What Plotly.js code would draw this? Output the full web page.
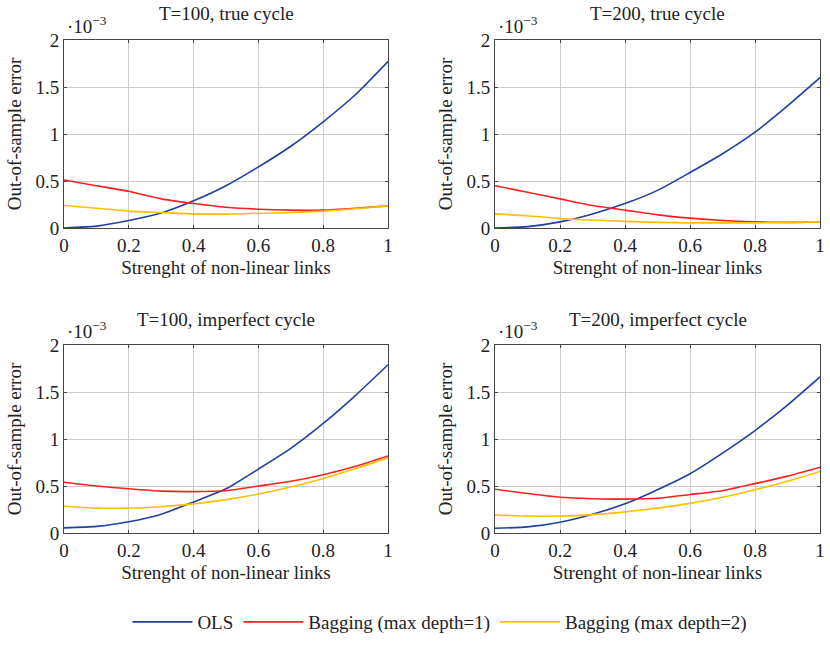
<!DOCTYPE html>
<html>
<head>
<meta charset="utf-8">
<script src="https://cdn.plot.ly/plotly-3.0.1.min.js"></script>
</head>
<body style="margin:0;background:#fff">
<div id="chart" style="width:830px;height:645px"></div>
<script>
// x values: strength of non-linear links
const strength = [0, 0.1, 0.2, 0.3, 0.4, 0.5, 0.6, 0.7, 0.8, 0.9, 1.0];
// errors in units of 1e-3
const olsT100True = [0, 0.02, 0.08, 0.16, 0.29, 0.45, 0.65, 0.87, 1.13, 1.42, 1.77];
const bag1T100True = [0.51, 0.45, 0.39, 0.31, 0.26, 0.22, 0.20, 0.19, 0.19, 0.21, 0.235];
const bag2T100True = [0.24, 0.21, 0.18, 0.165, 0.15, 0.148, 0.155, 0.165, 0.18, 0.205, 0.235];

const olsT200True = [0, 0.015, 0.065, 0.15, 0.26, 0.40, 0.59, 0.79, 1.02, 1.30, 1.60];
const bag1T200True = [0.45, 0.38, 0.31, 0.24, 0.19, 0.14, 0.105, 0.08, 0.065, 0.06, 0.065];
const bag2T200True = [0.15, 0.13, 0.10, 0.085, 0.07, 0.06, 0.055, 0.055, 0.055, 0.06, 0.065];

const olsT100Imp = [0.055, 0.07, 0.12, 0.20, 0.33, 0.47, 0.68, 0.90, 1.165, 1.465, 1.79];
const bag1T100Imp = [0.54, 0.50, 0.47, 0.445, 0.44, 0.45, 0.50, 0.55, 0.62, 0.71, 0.82];
const bag2T100Imp = [0.285, 0.265, 0.265, 0.28, 0.31, 0.355, 0.415, 0.49, 0.58, 0.685, 0.80];

const olsT200Imp = [0.05, 0.065, 0.115, 0.20, 0.31, 0.46, 0.63, 0.85, 1.09, 1.36, 1.66];
const bag1T200Imp = [0.465, 0.42, 0.38, 0.365, 0.36, 0.37, 0.41, 0.45, 0.525, 0.605, 0.70];
const bag2T200Imp = [0.19, 0.18, 0.18, 0.195, 0.225, 0.265, 0.315, 0.38, 0.46, 0.55, 0.655];

const panelTitles = ["T=100, true cycle", "T=200, true cycle", "T=100, imperfect cycle", "T=200, imperfect cycle"];
const seriesNames = ["OLS", "Bagging (max depth=1)", "Bagging (max depth=2)"];
const xTickVals = [0, 0.2, 0.4, 0.6, 0.8, 1];
const xTickText = ["0", "0.2", "0.4", "0.6", "0.8", "1"];
const yTickVals = [0, 0.5, 1, 1.5, 2];
const yTickText = ["0", "0.5", "1", "1.5", "2"];

const colors = ["#1f3fa3", "#ff1f1f", "#ffbf00"];
const FONT = "Liberation Serif";
const FS = 19;
const TXT = "#222222";
const F = () => ({family: FONT, size: FS, color: TXT});

const panels = [
  [olsT100True, bag1T100True, bag2T100True],
  [olsT200True, bag1T200True, bag2T200True],
  [olsT100Imp, bag1T100Imp, bag2T100Imp],
  [olsT200Imp, bag1T200Imp, bag2T200Imp]
];

const W = 830, H = 645;
const xDom = [[64/W, 388/W], [495/W, 820/W]];
const yDom = [[(H-228)/H, (H-40)/H], [(H-533)/H, (H-345)/H]];

const traces = [];
panels.forEach((p, i) => {
  const ax = i === 0 ? "" : String(i + 1);
  p.forEach((ys, s) => {
    traces.push({
      x: strength, y: ys, type: "scatter", mode: "lines",
      name: seriesNames[s], legendgroup: seriesNames[s], showlegend: i === 0,
      line: {color: colors[s], width: 1.6, shape: "spline", smoothing: 0.6},
      xaxis: "x" + ax, yaxis: "y" + ax, hoverinfo: "skip"
    });
  });
});

const layout = {
  width: W, height: H,
  margin: {l: 0, r: 0, t: 0, b: 0},
  paper_bgcolor: "#fff", plot_bgcolor: "#fff",
  showlegend: true,
  legend: {orientation: "h", x: 0.53, xanchor: "center", y: (H-622)/H, yanchor: "middle",
           font: F(), itemwidth: 60, tracegroupgap: 0, entrywidth: 0},
  annotations: []
};

panels.forEach((p, i) => {
  const ax = i === 0 ? "" : String(i + 1);
  const col = i % 2, row = Math.floor(i / 2);
  const xd = xDom[col], yd = yDom[row];
  layout["xaxis" + ax] = {
    domain: xd, range: [0, 1], anchor: "y" + ax,
    tickvals: xTickVals, ticktext: xTickText,
    showgrid: true, gridcolor: "#cccccc", gridwidth: 1,
    showline: true, linecolor: "#444", linewidth: 1, mirror: "ticks",
    ticks: "inside", ticklen: 3, tickcolor: "#444",
    zeroline: false, tickfont: F(),
    title: {text: "Strenght of non-linear links", font: F(), standoff: 5}
  };
  layout["yaxis" + ax] = {
    domain: yd, range: [0, 2], anchor: "x" + ax,
    tickvals: yTickVals, ticktext: yTickText,
    showgrid: true, gridcolor: "#cccccc", gridwidth: 1,
    showline: true, linecolor: "#444", linewidth: 1, mirror: "ticks",
    ticks: "inside", ticklen: 3, tickcolor: "#444",
    zeroline: false, tickfont: F(),
    title: {text: "Out-of-sample error", font: F(), standoff: 8}
  };
  layout.annotations.push({
    text: panelTitles[i], xref: "paper", yref: "paper",
    x: (xd[0] + xd[1]) / 2, y: yd[1] + 26/H, xanchor: "center", yanchor: "middle",
    showarrow: false, font: F()
  });
  layout.annotations.push({
    text: "·10<sup>−3</sup>", xref: "paper", yref: "paper",
    x: xd[0] + 1/W, y: yd[1] + 1/H, xanchor: "left", yanchor: "bottom",
    showarrow: false, font: F()
  });
});

Plotly.newPlot("chart", traces, layout, {displayModeBar: false});
</script>
</body>
</html>
